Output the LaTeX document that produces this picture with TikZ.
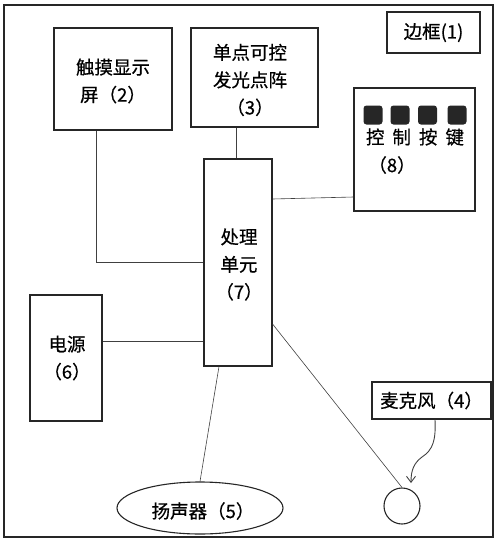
\documentclass[tikz,border=0pt]{standalone}
\usepackage{fontspec}
\setmainfont{Noto Sans CJK SC}[FakeBold=0.5]
\usetikzlibrary{arrows.meta,shapes.geometric}
\tikzset{
  box/.style={draw=black!85,line width=1.1pt,rectangle,inner sep=0pt},
  conn/.style={draw=black!75,line width=0.6pt},
  txt/.style={font=\fontsize{18.5}{27.5}\selectfont,align=center,inner sep=0pt,text=black},
  btn/.style={fill=black!85,rounded corners=3pt,minimum width=19pt,minimum height=19pt,inner sep=0pt}
}
\begin{document}
\begin{tikzpicture}[x=1pt,y=-1pt]
\useasboundingbox (0,0) rectangle (500,544);
\node[box,line width=1.4pt,minimum width=489pt,minimum height=532pt] (frame) at (248.5,271) {};
\node[box,txt,minimum width=93pt,minimum height=41pt] (b1) at (433.5,32.5) {边框(1)};
\node[box,minimum width=118pt,minimum height=102pt] (b2) at (113,79) {};
\node[txt] (t2) at (113,81) {触摸显示\\屏（2）};
\node[box,minimum width=127pt,minimum height=99pt] (b3) at (254.5,77.5) {};
\node[txt] (t3) at (250,80) {单点可控\\发光点阵\\（3）};
\node[box,minimum width=68pt,minimum height=207pt] (b7) at (238,262.5) {};
\node[txt] (t7) at (239,264.5) {处理\\单元\\（7）};
\node[box,minimum width=121pt,minimum height=123pt] (b8) at (414.5,149.5) {};
\node[btn] (k1) at (373,115) {};
\node[btn] (k2) at (400,115) {};
\node[btn] (k3) at (427.5,115) {};
\node[btn] (k4) at (457,115) {};
\node[txt] (t8a) at (415,137) {控\hspace{8pt}制\hspace{8pt}按\hspace{8pt}键};
\node[txt] (t8b) at (392,165) {（8）};
\node[box,minimum width=72pt,minimum height=126pt] (b6) at (66,358) {};
\node[txt] (t6) at (67,358) {电源\\（6）};
\node[box,txt,minimum width=119pt,minimum height=37pt] (mic) at (431.5,400.5) {麦克风（4）};
\node[draw=black!85,line width=1.1pt,circle,minimum size=36pt,inner sep=0pt] (mc) at (402,506) {};
\node[draw=black!85,line width=1.1pt,ellipse,minimum width=166pt,minimum height=52pt,inner sep=0pt] (spk) at (200,508) {};
\node[txt] (t5) at (203,511) {扬声器（5）};
% connectors
\draw[conn] ([xshift=-18.5pt]b3.south) -- ([xshift=-2pt]b7.north);
\draw[conn] ([xshift=-17pt]b2.south) |- (b7.west);
\draw[conn] ([yshift=63.5pt]b7.east) -- ([yshift=-47.5pt]b8.west);
\draw[conn] ([yshift=17pt]b6.east) -- ([yshift=-78.5pt]b7.west);
\draw[conn] ([xshift=-19pt]b7.south) -- (spk.north);
\draw[conn] ([yshift=-61.5pt]b7.east) -- (mc.north);
\coordinate (ae) at (411,483);
\draw[conn,line width=0.9pt,-{Straight Barb[length=6pt,width=9pt]}] ([xshift=3.5pt]mic.south) .. controls (436,440) and (433,450) .. (422,457) .. controls (414,463) and (411,470) .. (ae);
\end{tikzpicture}
\end{document}
